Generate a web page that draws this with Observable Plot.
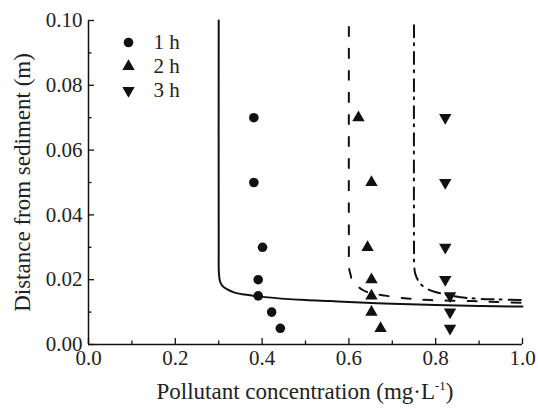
<!DOCTYPE html>
<html><head><meta charset="utf-8">
<script src="https://cdn.jsdelivr.net/npm/d3@7"></script>
<script src="https://cdn.jsdelivr.net/npm/@observablehq/plot@0.6"></script>
<style>
body{margin:0;background:#fff;font-family:"Liberation Serif",serif}
#wrap{position:relative;width:538px;height:409px}
#xlabel{position:absolute;left:88px;width:434px;top:377px;text-align:center;font-family:"Liberation Serif",serif;font-size:23px;line-height:30px;color:#222;white-space:nowrap}
#xlabel sup{font-size:13px;vertical-align:9px;line-height:0}
</style>
</head><body><div id="wrap"><div id="chart"></div><div id="xlabel"></div></div>
<script>
const xMajorTicks = [0, 0.2, 0.4, 0.6, 0.8, 1.0];
const xMinorTicks = [0.1, 0.3, 0.5, 0.7, 0.9];
const yMajorTicks = [0, 0.02, 0.04, 0.06, 0.08, 0.10];
const yMinorTicks = [0.01, 0.03, 0.05, 0.07, 0.09];
const xTitle = ["Pollutant concentration (mg\u00b7L", "-1", ")"];
const yTitle = "Distance from sediment (m)";

const seriesNames = ["1 h", "2 h", "3 h"];
const depths = [0.07, 0.05, 0.03, 0.02, 0.015, 0.01, 0.005];
const conc1h = [0.381, 0.381, 0.401, 0.391, 0.391, 0.422, 0.442];
const conc2h = [0.622, 0.652, 0.643, 0.652, 0.652, 0.652, 0.673];
const conc3h = [0.822, 0.822, 0.822, 0.822, 0.833, 0.833, 0.833];

const model1hX = [0.3, 0.3, 0.3005, 0.303, 0.308, 0.32, 0.335, 0.36, 0.4, 0.5, 0.557, 0.6, 0.7, 0.8, 0.9, 1.0];
const model1hY = [0.1, 0.03, 0.022, 0.0195, 0.0182, 0.017, 0.0161, 0.0154, 0.0147, 0.0137, 0.0134, 0.0131, 0.0126, 0.0122, 0.0119, 0.0117];
const model2hX = [0.6, 0.6, 0.6005, 0.604, 0.6075, 0.631, 0.652, 0.673, 0.734, 0.788, 0.88, 0.942, 1.0];
const model2hY = [0.098, 0.03, 0.0235, 0.0215, 0.0198, 0.0169, 0.0158, 0.0153, 0.0142, 0.0137, 0.0134, 0.0131, 0.0129];
const model3hX = [0.75, 0.75, 0.7505, 0.753, 0.765, 0.788, 0.818, 0.857, 0.903, 0.95, 1.0];
const model3hY = [0.0985, 0.03, 0.0244, 0.0218, 0.0187, 0.0167, 0.0156, 0.0146, 0.0141, 0.0139, 0.0137];

const symbols = ["circle", "triangle", "triangle"];
const rotations = [0, 0, 180];
const radii = [4.8, 4.6, 4.6];
const dashes = [null, "9,13", "12,6,2,7"];

const obs = [conc1h, conc2h, conc3h].map((c, s) => c.map((x, i) => ({x, y: depths[i], s})));
const models = [[model1hX, model1hY], [model2hX, model2hY], [model3hX, model3hY]]
  .map(([xs, ys]) => xs.map((x, i) => ({x, y: ys[i]})));

const ink = "#111";
const serif = "Liberation Serif";
const marks = [
  Plot.ruleY([0], {stroke: ink, strokeWidth: 1.5}),
  Plot.ruleX([0], {stroke: ink, strokeWidth: 1.5}),
  Plot.axisX({ticks: xMajorTicks, tickSize: 0, tickPadding: 6, tickFormat: ".1f", fill: "#222", fontFamily: serif, label: null}),
  Plot.axisX({ticks: xMajorTicks, tickSize: -6, tickFormat: () => "", label: null, stroke: ink, strokeWidth: 1.3}),
  Plot.axisX({ticks: xMinorTicks, tickSize: -3.5, tickFormat: () => "", label: null, stroke: ink, strokeWidth: 1.3}),
  Plot.axisY({ticks: yMajorTicks, tickSize: 0, tickPadding: 6, tickFormat: ".2f", fill: "#222", fontFamily: serif,
    label: yTitle, labelAnchor: "center", labelArrow: "none", labelOffset: 75}),
  Plot.axisY({ticks: yMajorTicks, tickSize: -6, tickFormat: () => "", label: null, stroke: ink, strokeWidth: 1.3}),
  Plot.axisY({ticks: yMinorTicks, tickSize: -3.5, tickFormat: () => "", label: null, stroke: ink, strokeWidth: 1.3}),
];
models.forEach((m, i) => marks.push(Plot.line(m, {x: "x", y: "y", stroke: ink, strokeWidth: 2, curve: "catmull-rom", strokeDasharray: dashes[i]})));
obs.forEach((o, i) => marks.push(Plot.dot(o, {x: "x", y: "y", symbol: symbols[i], rotate: rotations[i], r: radii[i], fill: ink, stroke: "none"})));
seriesNames.forEach((name, i) => {
  marks.push(Plot.dot([name], {frameAnchor: "top-left", dx: 40, dy: 22 + i * 24, symbol: symbols[i], rotate: rotations[i], r: radii[i], fill: ink}));
  marks.push(Plot.text([name], {frameAnchor: "top-left", dx: 65, dy: 22 + i * 24, text: d => d, textAnchor: "start", lineAnchor: "middle", fill: "#222", fontSize: 21, fontFamily: serif}));
});

const chart = Plot.plot({
  width: 538, height: 409,
  marginLeft: 88, marginRight: 16, marginTop: 20, marginBottom: 65,
  style: {fontFamily: serif, fontSize: "21px"},
  x: {domain: [0, 1]},
  y: {domain: [0, 0.1]},
  marks
});
document.getElementById("chart").appendChild(chart);
chart.querySelectorAll('g[aria-label="y-axis label"] text').forEach(t => t.setAttribute("font-size", "23px"));

const xl = document.getElementById("xlabel");
xl.append(xTitle[0]);
const sup = document.createElement("sup"); sup.textContent = xTitle[1];
xl.append(sup, xTitle[2]);
</script></body></html>
